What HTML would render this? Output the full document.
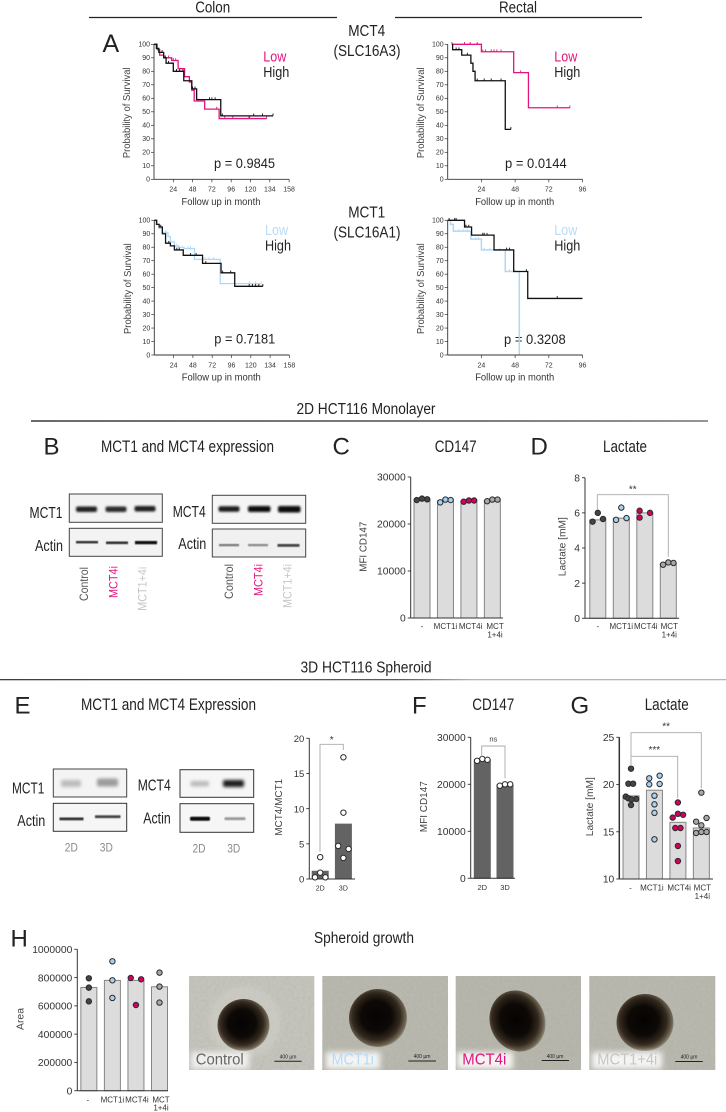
<!DOCTYPE html>
<html lang="en">
<head>
<meta charset="utf-8">
<title>MCT1 and MCT4 expression figure</title>
<style>
html,body{margin:0;padding:0;background:#fff;}
svg{display:block;position:absolute;left:0;top:0;}
text{font-family:"Liberation Sans",sans-serif;fill:#222;}
</style>
</head>
<body>
<svg id="figure" xmlns="http://www.w3.org/2000/svg" width="726" height="1112" viewBox="0 0 726 1112">
<defs>
  <filter id="b1" x="-30%" y="-150%" width="160%" height="400%"><feGaussianBlur stdDeviation="1.1"/></filter>
  <filter id="b2" x="-30%" y="-150%" width="160%" height="400%"><feGaussianBlur stdDeviation="1.7"/></filter>
  <filter id="b4" x="-30%" y="-60%" width="160%" height="220%"><feGaussianBlur stdDeviation="3"/></filter>
  <filter id="edge" x="-10%" y="-100%" width="120%" height="300%"><feGaussianBlur stdDeviation="0.6"/></filter>
  <filter id="grain" x="0" y="0" width="100%" height="100%">
    <feTurbulence type="fractalNoise" baseFrequency="0.35" numOctaves="2" seed="4"/>
    <feColorMatrix values="0 0 0 0 0.35  0 0 0 0 0.35  0 0 0 0 0.32  0.9 0 0 0 -0.32"/>
  </filter>
  <radialGradient id="sph" cx="0.47" cy="0.47" r="0.53">
    <stop offset="0" stop-color="#050302"/>
    <stop offset="0.5" stop-color="#0d0906"/>
    <stop offset="0.78" stop-color="#33291e"/>
    <stop offset="0.95" stop-color="#6a6150"/>
    <stop offset="1" stop-color="#87806f"/>
  </radialGradient>
  <linearGradient id="rule2" gradientUnits="userSpaceOnUse" x1="31" y1="0" x2="708" y2="0">
    <stop offset="0" stop-color="#111"/><stop offset="0.7" stop-color="#333"/><stop offset="1" stop-color="#555"/>
  </linearGradient>
  <linearGradient id="rule3" gradientUnits="userSpaceOnUse" x1="0" y1="0" x2="726" y2="0">
    <stop offset="0" stop-color="#222"/><stop offset="0.55" stop-color="#444"/><stop offset="0.65" stop-color="#aaa"/><stop offset="1" stop-color="#aaa"/>
  </linearGradient>
</defs>

<!-- Section headings -->
<g>
  <text x="212.7" y="12.5" font-size="15.5" text-anchor="middle" textLength="35" lengthAdjust="spacingAndGlyphs">Colon</text>
  <text x="518" y="12.5" font-size="15.5" text-anchor="middle" textLength="38" lengthAdjust="spacingAndGlyphs">Rectal</text>
  <line x1="89" y1="17.5" x2="337" y2="17.5" stroke="#222" stroke-width="1.2"/>
  <line x1="395" y1="17.5" x2="642" y2="17.5" stroke="#222" stroke-width="1.2"/>
  <text x="366.7" y="36" font-size="15.5" text-anchor="middle" textLength="37" lengthAdjust="spacingAndGlyphs">MCT4</text>
  <text x="367" y="56" font-size="15.5" text-anchor="middle" textLength="67" lengthAdjust="spacingAndGlyphs">(SLC16A3)</text>
  <text x="366.7" y="217.3" font-size="15.5" text-anchor="middle" textLength="37" lengthAdjust="spacingAndGlyphs">MCT1</text>
  <text x="367" y="237.3" font-size="15.5" text-anchor="middle" textLength="67" lengthAdjust="spacingAndGlyphs">(SLC16A1)</text>

  <text x="366" y="414" font-size="15.5" text-anchor="middle" textLength="139" lengthAdjust="spacingAndGlyphs">2D HCT116 Monolayer</text>
  <line x1="31" y1="421" x2="708" y2="421" stroke="url(#rule2)" stroke-width="1.2"/>
  <text x="366" y="672.5" font-size="15.5" text-anchor="middle" textLength="131" lengthAdjust="spacingAndGlyphs">3D HCT116 Spheroid</text>
  <line x1="0" y1="679.7" x2="726" y2="679.7" stroke="url(#rule3)" stroke-width="1.2"/>

  <text x="102.5" y="52" font-size="25" fill="#111">A</text>
  <text x="43.5" y="454.3" font-size="24" fill="#111">B</text>
  <text x="332.5" y="454.3" font-size="24" fill="#111">C</text>
  <text x="530.5" y="454.3" font-size="24" fill="#111">D</text>
  <text x="14.5" y="713.3" font-size="24" fill="#111">E</text>
  <text x="412" y="713.3" font-size="24" fill="#111">F</text>
  <text x="570.5" y="713.3" font-size="24" fill="#111">G</text>
  <text x="10.5" y="946.7" font-size="24" fill="#111">H</text>

  <text x="187.5" y="452" font-size="16.5" text-anchor="middle" textLength="173" lengthAdjust="spacingAndGlyphs">MCT1 and MCT4 expression</text>
  <text x="455.7" y="452" font-size="16.5" text-anchor="middle" textLength="42" lengthAdjust="spacingAndGlyphs">CD147</text>
  <text x="625" y="452" font-size="16.5" text-anchor="middle" textLength="44" lengthAdjust="spacingAndGlyphs">Lactate</text>
  <text x="168.5" y="710" font-size="16.5" text-anchor="middle" textLength="175" lengthAdjust="spacingAndGlyphs">MCT1 and MCT4 Expression</text>
  <text x="493.3" y="710" font-size="16.5" text-anchor="middle" textLength="42" lengthAdjust="spacingAndGlyphs">CD147</text>
  <text x="666.7" y="710" font-size="16.5" text-anchor="middle" textLength="44" lengthAdjust="spacingAndGlyphs">Lactate</text>
  <text x="364" y="943" font-size="15.5" text-anchor="middle" textLength="100" lengthAdjust="spacingAndGlyphs">Spheroid growth</text>
</g>

<!-- Survival legends and p values -->
<g>
  <text x="263.3" y="61.7" font-size="14.5" style="fill:#e3147f" textLength="23" lengthAdjust="spacingAndGlyphs">Low</text>
  <text x="263.3" y="77" font-size="14.5" textLength="26" lengthAdjust="spacingAndGlyphs">High</text>
  <text x="214" y="168" font-size="14" textLength="61" lengthAdjust="spacingAndGlyphs">p = 0.9845</text>
  <text x="554.3" y="61.7" font-size="14.5" style="fill:#e3147f" textLength="23" lengthAdjust="spacingAndGlyphs">Low</text>
  <text x="554.3" y="77" font-size="14.5" textLength="26" lengthAdjust="spacingAndGlyphs">High</text>
  <text x="505" y="168" font-size="14" textLength="61.7" lengthAdjust="spacingAndGlyphs">p = 0.0144</text>
  <text x="265" y="235" font-size="14.5" style="fill:#b8dcf8" textLength="23" lengthAdjust="spacingAndGlyphs">Low</text>
  <text x="265" y="250.7" font-size="14.5" textLength="26" lengthAdjust="spacingAndGlyphs">High</text>
  <text x="214.3" y="343.3" font-size="14" textLength="61" lengthAdjust="spacingAndGlyphs">p = 0.7181</text>
  <text x="554.3" y="235" font-size="14.5" style="fill:#b8dcf8" textLength="23" lengthAdjust="spacingAndGlyphs">Low</text>
  <text x="554.3" y="250.7" font-size="14.5" textLength="26" lengthAdjust="spacingAndGlyphs">High</text>
  <text x="504" y="344" font-size="14" textLength="61.7" lengthAdjust="spacingAndGlyphs">p = 0.3208</text>
</g>

<!-- Panel B western blots -->
<g>
  <g>
    <rect x="69.3" y="494" width="93" height="28.3" fill="#f3f3f3" stroke="#444" stroke-width="1"/>
    <rect x="76" y="506.5" width="21" height="5.5" rx="2" fill="#222" filter="url(#b1)"/>
    <rect x="105.5" y="506.5" width="21" height="5.5" rx="2" fill="#2c2c2c" filter="url(#b1)"/>
    <rect x="134.5" y="506" width="21" height="5.5" rx="2" fill="#222" filter="url(#b1)"/>
  </g>
  <g>
    <rect x="69.3" y="528.3" width="93" height="28" fill="#f3f3f3" stroke="#444" stroke-width="1"/>
    <rect x="76" y="541" width="22" height="2.4" fill="#333" filter="url(#edge)"/>
    <rect x="106" y="541.5" width="22" height="2.6" fill="#333" filter="url(#edge)"/>
    <rect x="135" y="541" width="22" height="3.2" fill="#111" filter="url(#edge)"/>
  </g>
  <g>
    <rect x="212.3" y="495.3" width="93.4" height="28" fill="#f5f5f5" stroke="#444" stroke-width="1"/>
    <rect x="218.5" y="506.3" width="21" height="5.5" rx="2" fill="#1c1c1c" filter="url(#b1)"/>
    <rect x="248" y="506" width="22.5" height="6" rx="2" fill="#0f0f0f" filter="url(#b1)"/>
    <rect x="278" y="506" width="22.5" height="6.5" rx="2" fill="#0a0a0a" filter="url(#b1)"/>
  </g>
  <g>
    <rect x="212.3" y="529" width="93.4" height="28" fill="#f0f0f0" stroke="#444" stroke-width="1"/>
    <rect x="219" y="544" width="20" height="2.2" fill="#777" filter="url(#edge)"/>
    <rect x="248" y="544" width="20" height="2.2" fill="#888" filter="url(#edge)"/>
    <rect x="277.5" y="544" width="22" height="2.8" fill="#444" filter="url(#edge)"/>
  </g>
  <text x="29.5" y="518" font-size="16" textLength="33" lengthAdjust="spacingAndGlyphs">MCT1</text>
  <text x="35" y="551" font-size="16" textLength="28" lengthAdjust="spacingAndGlyphs">Actin</text>
  <text x="172.7" y="517" font-size="16" textLength="33" lengthAdjust="spacingAndGlyphs">MCT4</text>
  <text x="178.3" y="549" font-size="16" textLength="28" lengthAdjust="spacingAndGlyphs">Actin</text>
  <text transform="translate(88,601) rotate(-90)" font-size="12" style="fill:#555" textLength="34" lengthAdjust="spacingAndGlyphs">Control</text>
  <text transform="translate(117.3,598) rotate(-90)" font-size="12" style="fill:#e3147f" textLength="32" lengthAdjust="spacingAndGlyphs">MCT4i</text>
  <text transform="translate(146.7,610.7) rotate(-90)" font-size="12" style="fill:#c6c6c6" textLength="44" lengthAdjust="spacingAndGlyphs">MCT1+4i</text>
  <text transform="translate(233,599) rotate(-90)" font-size="12" style="fill:#555" textLength="35" lengthAdjust="spacingAndGlyphs">Control</text>
  <text transform="translate(262.3,596) rotate(-90)" font-size="12" style="fill:#e3147f" textLength="32" lengthAdjust="spacingAndGlyphs">MCT4i</text>
  <text transform="translate(291.7,608) rotate(-90)" font-size="12" style="fill:#c6c6c6" textLength="44" lengthAdjust="spacingAndGlyphs">MCT1+4i</text>
</g>

<!-- Panel E western blots -->
<g>
  <g>
    <rect x="53.3" y="769" width="73.4" height="28" fill="#f4f4f4" stroke="#444" stroke-width="1"/>
    <rect x="61" y="780" width="20" height="7" rx="2" fill="#bdbdbd" filter="url(#b2)"/>
    <rect x="97" y="778.5" width="21" height="8" rx="2" fill="#9c9c9c" filter="url(#b2)"/>
  </g>
  <g>
    <rect x="53.3" y="803.3" width="73.4" height="28" fill="#f6f6f6" stroke="#333" stroke-width="1"/>
    <rect x="59.5" y="817.5" width="24" height="2.8" fill="#333" filter="url(#edge)"/>
    <rect x="95" y="815.3" width="25.5" height="2.8" fill="#444" filter="url(#edge)"/>
  </g>
  <g>
    <rect x="180" y="769.7" width="73.7" height="27.6" fill="#f6f6f6" stroke="#333" stroke-width="1"/>
    <rect x="190.5" y="781" width="18.5" height="5.5" rx="2" fill="#bbb" filter="url(#b2)"/>
    <rect x="223" y="780" width="21" height="7" rx="2" fill="#1b1b1b" filter="url(#b2)"/>
  </g>
  <g>
    <rect x="180" y="803.7" width="73.7" height="28.6" fill="#f6f6f6" stroke="#333" stroke-width="1"/>
    <rect x="190" y="816.7" width="20" height="4" rx="1.5" fill="#0c0c0c" filter="url(#edge)"/>
    <rect x="224.5" y="817.3" width="21" height="2.8" rx="1" fill="#999" filter="url(#edge)"/>
  </g>
  <text x="12" y="793.3" font-size="16" textLength="32.3" lengthAdjust="spacingAndGlyphs">MCT1</text>
  <text x="17.3" y="826" font-size="16" textLength="28" lengthAdjust="spacingAndGlyphs">Actin</text>
  <text x="137.7" y="790.7" font-size="16" textLength="33" lengthAdjust="spacingAndGlyphs">MCT4</text>
  <text x="143.3" y="823.3" font-size="16" textLength="27.4" lengthAdjust="spacingAndGlyphs">Actin</text>
  <text x="71.3" y="851.7" font-size="12" text-anchor="middle" style="fill:#888" textLength="13" lengthAdjust="spacingAndGlyphs">2D</text>
  <text x="106.3" y="851.7" font-size="12" text-anchor="middle" style="fill:#888" textLength="13" lengthAdjust="spacingAndGlyphs">3D</text>
  <text x="199" y="852.3" font-size="12" text-anchor="middle" style="fill:#888" textLength="13" lengthAdjust="spacingAndGlyphs">2D</text>
  <text x="233.7" y="852.3" font-size="12" text-anchor="middle" style="fill:#888" textLength="13" lengthAdjust="spacingAndGlyphs">3D</text>
</g>

<!-- Panel H microscopy photos -->
<g>
  <g>
    <rect x="189" y="976" width="125.3" height="94" fill="#c5c4bc"/>
    <rect x="189" y="976" width="125.3" height="94" filter="url(#grain)" opacity="0.5"/>
    <ellipse cx="245" cy="1022" rx="36" ry="36" fill="#d4d3cd" opacity="0.4" filter="url(#b4)"/>
    <circle cx="243.5" cy="1025" r="26" fill="url(#sph)"/>
    <rect x="191" y="1052" width="58" height="17" fill="#fff" opacity="0.75" filter="url(#b4)"/>
    <text x="195.7" y="1064.5" font-size="16" style="fill:#666" textLength="48" lengthAdjust="spacingAndGlyphs">Control</text>
    <line x1="274.3" y1="1061.3" x2="301.7" y2="1061.3" stroke="#222" stroke-width="1"/>
    <text x="288" y="1058.5" font-size="5" text-anchor="middle">400 µm</text>
  </g>
  <g>
    <rect x="322.3" y="976" width="125.7" height="94" fill="#b9b8ae"/>
    <rect x="322.3" y="976" width="125.7" height="94" filter="url(#grain)" opacity="0.5"/>
    <circle cx="378" cy="1018" r="29" fill="url(#sph)"/>
    <rect x="326" y="1052" width="54" height="17" fill="#fff" opacity="0.85" filter="url(#b4)"/>
    <text x="331.5" y="1064.5" font-size="16" style="fill:#b3dcfb" textLength="42.5" lengthAdjust="spacingAndGlyphs">MCT1i</text>
    <line x1="408.3" y1="1061" x2="436" y2="1061" stroke="#222" stroke-width="1"/>
    <text x="422" y="1058" font-size="5" text-anchor="middle">400 µm</text>
  </g>
  <g>
    <rect x="455.7" y="976" width="125.3" height="94" fill="#b7b6ac"/>
    <rect x="455.7" y="976" width="125.3" height="94" filter="url(#grain)" opacity="0.5"/>
    <ellipse cx="517.5" cy="1021" rx="27.5" ry="31" transform="rotate(-22 517.5 1021)" fill="url(#sph)"/>
    <rect x="457" y="1052" width="56" height="17" fill="#fff" opacity="0.85" filter="url(#b4)"/>
    <text x="462.3" y="1064.5" font-size="16" style="fill:#e3147f" textLength="44" lengthAdjust="spacingAndGlyphs">MCT4i</text>
    <line x1="541.7" y1="1060.5" x2="569" y2="1060.5" stroke="#222" stroke-width="1"/>
    <text x="555" y="1058" font-size="5" text-anchor="middle">400 µm</text>
  </g>
  <g>
    <rect x="589.3" y="976" width="126" height="94" fill="#b9b8af"/>
    <rect x="589.3" y="976" width="126" height="94" filter="url(#grain)" opacity="0.5"/>
    <circle cx="645" cy="1022.5" r="28.5" fill="url(#sph)"/>
    <rect x="592" y="1052" width="70" height="17" fill="#fff" opacity="0.85" filter="url(#b4)"/>
    <text x="597.3" y="1064.5" font-size="16" style="fill:#c6c6c6" textLength="60" lengthAdjust="spacingAndGlyphs">MCT1+4i</text>
    <line x1="675.3" y1="1061.5" x2="702.7" y2="1061.5" stroke="#222" stroke-width="1"/>
    <text x="689" y="1058.5" font-size="5" text-anchor="middle">400 µm</text>
  </g>
</g>

<g id="charts"></g>
</svg>

<script>
// ---------- Survival plot tick labels ----------
const kmYTicks = [0, 10, 20, 30, 40, 50, 60, 70, 80, 90, 100];
const colonTickMonths = [24, 48, 72, 96, 120, 144, 168];
const colonTickLabels = ['24', '48', '72', '96', '120', '134', '158'];
const rectalTickMonths = [24, 48, 72, 96];
const rectalTickLabels = ['24', '48', '72', '96'];

// ---------- A: colon MCT4 ----------
const colonMct4LowMonths = [4, 7, 12, 22, 30, 38, 44, 47, 50, 63, 81, 140];
const colonMct4LowSurvival = [96, 92, 90, 88, 82, 76, 72, 66, 58, 52, 45, 45];
const colonMct4LowCensored = [14, 18, 24, 27, 55, 78, 88, 98, 118, 119, 140];
const colonMct4HighMonths = [3, 6, 12, 15, 24, 37, 47, 53, 83, 148];
const colonMct4HighSurvival = [97, 94, 90, 86, 80, 73, 67, 59, 47, 47];
const colonMct4HighCensored = [10, 14, 18, 28, 32, 36, 48, 51, 69, 72, 76, 85, 124, 135, 148];

// ---------- A: rectal MCT4 ----------
const rectalMct4LowMonths = [3, 24, 47, 57.5, 87];
const rectalMct4LowSurvival = [100, 94.5, 79, 53, 53];
const rectalMct4LowCensored = [3, 12, 16, 21, 25, 27, 31, 33, 35, 38, 52, 78, 87];
const rectalMct4HighMonths = [3.5, 10, 16.5, 18, 19.5, 41, 45];
const rectalMct4HighSurvival = [96, 92, 86, 80, 73, 37, 37];
const rectalMct4HighCensored = [6, 8, 14, 21, 26, 31, 38, 45];

// ---------- A: colon MCT1 ----------
const colonMct1LowMonths = [2, 6, 10, 17, 20, 25, 30, 37, 50, 82, 133];
const colonMct1LowSurvival = [97, 94, 91, 88, 84, 81, 80, 79, 71, 53, 53];
const colonMct1LowCensored = [14, 28, 42, 45, 63, 68, 74, 118, 126, 133];
const colonMct1HighMonths = [3, 6, 10, 14, 20, 25, 36, 60, 83, 100, 135];
const colonMct1HighSurvival = [97, 95, 90, 83, 81, 78, 74, 68, 61, 51, 51];
const colonMct1HighCensored = [8, 18, 28, 31, 45, 52, 64, 85, 95, 118, 122, 126, 130, 135];

// ---------- A: rectal MCT1 ----------
const rectalMct1LowMonths = [2, 4, 16.5, 24, 41, 51];
const rectalMct1LowSurvival = [97, 92, 86, 78, 62, 0];
const rectalMct1LowCensored = [8, 11, 14, 20, 22, 26, 30, 37, 44, 48];
const rectalMct1HighMonths = [12, 17, 33, 47, 57, 96];
const rectalMct1HighSurvival = [95, 89, 78, 62, 42, 42];
const rectalMct1HighCensored = [1, 5, 6, 13, 15, 25, 26, 28, 42, 44, 56, 78];

// ---------- Bar chart shared labels ----------
const treatmentLines = [['-'], ['MCT1i'], ['MCT4i'], ['MCT', '1+4i']];
const treatmentDotColors = ['#454545', '#a7d0f2', '#d4005f', '#a8a8a8'];
const sampleLines = [['2D'], ['3D']];

// ---------- C: CD147 monolayer ----------
const cd147MonoTicks = [0, 10000, 20000, 30000];
const cd147MonoBars = [25200, 24950, 24900, 25050];
const cd147MonoDots = [[25100, 25400, 25250], [24600, 25200, 25100], [24750, 25000, 25000], [24850, 25200, 25200]];
const cd147MonoSlots = [[-1, 0, 1], [-1, 0, 1], [-1, 0, 1], [-1, 0, 1]];

// ---------- D: lactate monolayer ----------
const lactateMonoTicks = [0, 2, 4, 6, 8];
const lactateMonoBars = [5.6, 5.7, 6.0, 3.1];
const lactateMonoDots = [[5.5, 6.0, 5.65], [5.6, 6.3, 5.7], [6.12, 5.73, 6.0], [3.05, 3.18, 3.15]];
const lactateMonoSlots = [[-1, 0, 1], [-1, 0, 1], [-1, -1, 1], [-1, 0, 1]];

// ---------- E: MCT4/MCT1 ratio ----------
const ratioTicks = [0, 5, 10, 15, 20];
const ratioBars = [1.1, 7.8];
const ratioDots = [[0.24, 0.9, 0.24, 3.1], [17.3, 9.43, 4.7, 4.27, 2.99]];
const ratioSlots = [[-1, 0, 1, 0], [0, 0, -1, 1, 0]];

// ---------- F: CD147 spheroid ----------
const cd147SphereTicks = [0, 10000, 20000, 30000];
const cd147SphereBars = [25200, 19900];
const cd147SphereDots = [[25000, 25400, 25200], [19700, 20000, 20000]];
const cd147SphereSlots = [[-1, 0, 1], [-1, 0, 1]];

// ---------- G: lactate spheroid ----------
const lactateSphereTicks = [10, 15, 20, 25];
const lactateSphereBars = [18.8, 19.4, 16.0, 15.4];
const lactateSphereDots = [
  [21.68, 20.09, 20.09, 18.72, 18.54, 18.47, 18.43, 17.83],
  [20.94, 20.66, 20.02, 20.06, 18.82, 17.9, 17.0, 14.2],
  [18.1, 16.5, 16.9, 16.8, 15.4, 15.4, 13.5, 11.9],
  [19.14, 16.46, 16.07, 15.68, 14.87, 14.98, 14.98]
];
const lactateSphereSlots = [
  [0, -0.5, 0.4, -1, -0.5, 1, 0.1, 0],
  [1, -1, -1, 1, 0, 0, 0, 0],
  [0, -1, 0, 1, -0.5, 0.5, 0, 0],
  [0, 1, -1, 0, -1, 0, 1]
];

// ---------- H: spheroid area ----------
const areaTicks = [0, 200000, 400000, 600000, 800000, 1000000];
const areaBars = [730000, 780000, 780000, 735000];
const areaDots = [[795000, 729000, 632000], [915000, 781000, 656000], [797000, 788000, 606000], [835000, 736000, 623000]];
const areaSlots = [[0, 0, 0], [0, 0, 0], [-1, 1, 0], [0, 0, 0]];

// ---------- Drawing helpers ----------
const NS = 'http://www.w3.org/2000/svg';
const root = document.getElementById('charts');

function node(parent, tag, attrs, name) {
  const el = document.createElementNS(NS, tag);
  for (const k in attrs) el.setAttribute(k, attrs[k]);
  
  
  parent.appendChild(el);
  return el;
}
function txt(parent, str, attrs, name, fill) {
  const el = node(parent, 'text', attrs, name);
  el.textContent = str;
  if (fill) el.style.fill = fill;
  return el;
}
function rotatedTitle(parent, str, x, y, size, len, name) {
  txt(parent, str, {
    transform: 'translate(' + x + ',' + y + ') rotate(-90)',
    'font-size': size, 'text-anchor': 'middle',
    textLength: len, lengthAdjust: 'spacingAndGlyphs'
  }, name, '#444');
}

// Kaplan-Meier step plot
function drawKM(cfg) {
  const g = node(root, 'g', {}, cfg.name);
  const xs = m => cfg.x0 + m * cfg.pxPerMonth;
  const ys = s => cfg.yBottom - s * (cfg.yBottom - cfg.yTop) / 100;
  function series(months, surv, censored, color, w, name) {
    let d = 'M' + xs(cfg.start || 0) + ' ' + ys(100);
    months.forEach((m, i) => { d += 'H' + xs(m) + 'V' + ys(surv[i]); });
    node(g, 'path', { d: d, fill: 'none', stroke: color, 'stroke-width': w }, name + '-curve');
    censored.forEach(c => {
      let s = 100;
      months.forEach((m, i) => { if (m <= c) s = surv[i]; });
      node(g, 'line', { x1: xs(c), x2: xs(c), y1: ys(s) - 2.3, y2: ys(s), stroke: color, 'stroke-width': 0.9 }, name + '-censor-mark');
    });
  }
  series(cfg.low[0], cfg.low[1], cfg.low[2], cfg.lowColor, cfg.lowWidth || 1.3, 'low-series');
  series(cfg.high[0], cfg.high[1], cfg.high[2], '#111', 1.3, 'high-series');
  const right = xs(cfg.tickMonths[cfg.tickMonths.length - 1]);
  node(g, 'line', { x1: cfg.x0, x2: cfg.x0, y1: ys(100), y2: ys(0), stroke: '#333', 'stroke-width': 0.9 }, 'y-axis');
  node(g, 'line', { x1: cfg.x0, x2: right, y1: ys(0), y2: ys(0), stroke: '#333', 'stroke-width': 0.9 }, 'x-axis');
  kmYTicks.forEach(v => {
    node(g, 'line', { x1: cfg.x0 - 3, x2: cfg.x0, y1: ys(v), y2: ys(v), stroke: '#333', 'stroke-width': 0.7 }, 'y-tick');
    txt(g, String(v), { x: cfg.x0 - 4, y: ys(v) + 2.4, 'font-size': 7, 'text-anchor': 'end' }, 'y-tick-label', '#333');
  });
  cfg.tickMonths.forEach((m, i) => {
    node(g, 'line', { x1: xs(m), x2: xs(m), y1: ys(0), y2: ys(0) + 3, stroke: '#333', 'stroke-width': 0.7 }, 'x-tick');
    txt(g, cfg.tickLabels[i], { x: xs(m), y: ys(0) + 12.4, 'font-size': 7, 'text-anchor': 'middle' }, 'x-tick-label', '#333');
  });
  rotatedTitle(g, 'Probability of Survival', cfg.titleX, (ys(0) + ys(100)) / 2 + 1, 10, 90.7, 'y-axis-title');
  txt(g, 'Follow up in month', {
    x: cfg.x0 + 67, y: ys(0) + 25.7, 'font-size': 10, 'text-anchor': 'middle',
    textLength: 79, lengthAdjust: 'spacingAndGlyphs'
  }, 'x-axis-title', '#333');
}

const PINK = '#e3147f';
const SKY = '#aed8f7';
const colonScale = 19.3 / 24;
const rectalScale = 33.7 / 24;

drawKM({ name: 'km-colon-mct4', x0: 154, yTop: 44.3, yBottom: 179.3, pxPerMonth: colonScale, titleX: 130, tickMonths: colonTickMonths, tickLabels: colonTickLabels, lowColor: PINK,
  low: [colonMct4LowMonths, colonMct4LowSurvival, colonMct4LowCensored],
  high: [colonMct4HighMonths, colonMct4HighSurvival, colonMct4HighCensored] });
drawKM({ name: 'km-rectal-mct4', x0: 447.7, yTop: 44.3, yBottom: 179.3, pxPerMonth: rectalScale, titleX: 424, start: 3, tickMonths: rectalTickMonths, tickLabels: rectalTickLabels, lowColor: PINK,
  low: [rectalMct4LowMonths, rectalMct4LowSurvival, rectalMct4LowCensored],
  high: [rectalMct4HighMonths, rectalMct4HighSurvival, rectalMct4HighCensored] });
drawKM({ name: 'km-colon-mct1', x0: 154.3, yTop: 220.3, yBottom: 355, pxPerMonth: colonScale, titleX: 131, tickMonths: colonTickMonths, tickLabels: colonTickLabels, lowColor: SKY,
  low: [colonMct1LowMonths, colonMct1LowSurvival, colonMct1LowCensored],
  high: [colonMct1HighMonths, colonMct1HighSurvival, colonMct1HighCensored] });
drawKM({ name: 'km-rectal-mct1', x0: 447.7, yTop: 220.3, yBottom: 355, pxPerMonth: rectalScale, titleX: 424, tickMonths: rectalTickMonths, tickLabels: rectalTickLabels, lowColor: SKY, lowWidth: 1.5,
  low: [rectalMct1LowMonths, rectalMct1LowSurvival, rectalMct1LowCensored],
  high: [rectalMct1HighMonths, rectalMct1HighSurvival, rectalMct1HighCensored] });

// Bar + dot chart
function drawBars(cfg) {
  const g = node(root, 'g', {}, cfg.name);
  const min = cfg.ticks[0], max = cfg.ticks[cfg.ticks.length - 1];
  const ys = v => cfg.yBottom - (v - min) * (cfg.yBottom - cfg.yTop) / (max - min);
  const cx = i => cfg.firstCenter + i * cfg.step;
  cfg.bars.forEach((v, i) => {
    node(g, 'rect', { x: cx(i) - 8, y: ys(v), width: 16, height: cfg.yBottom - ys(v), fill: cfg.barFill, stroke: cfg.barStroke, 'stroke-width': 1 }, 'bar-' + i);
  });
  node(g, 'line', { x1: cfg.axisX, x2: cfg.axisX, y1: cfg.yTop, y2: cfg.yBottom, stroke: '#333', 'stroke-width': cfg.axisWidth || 1 }, 'y-axis');
  node(g, 'line', { x1: cfg.axisX, x2: cfg.axisEnd, y1: cfg.yBottom, y2: cfg.yBottom, stroke: '#333', 'stroke-width': 1 }, 'x-axis');
  cfg.ticks.forEach(t => {
    node(g, 'line', { x1: cfg.axisX - 3, x2: cfg.axisX, y1: ys(t), y2: ys(t), stroke: '#333', 'stroke-width': 0.9 }, 'y-tick');
    txt(g, String(t), { x: cfg.axisX - 5, y: ys(t) + 3.7, 'font-size': cfg.tickSize || 10.3, 'text-anchor': 'end' }, 'y-tick-label', '#333');
  });
  cfg.dots.forEach((group, i) => {
    group.forEach((v, j) => {
      const dot = node(g, 'circle', { cx: cx(i) + cfg.slots[i][j] * 5.2, cy: ys(v), r: 2.7, fill: cfg.dotColors ? cfg.dotColors[i] : '#fff', stroke: '#2a2a2a', 'stroke-width': 1 }, 'data-point');
      dot.setAttribute('data-group', String(i));
    });
  });
  cfg.xLines.forEach((lines, i) => {
    lines.forEach((s, k) => {
      txt(g, s, { x: cx(i) + (cfg.labelShift ? cfg.labelShift[i] : 0), y: cfg.labelY + k * 8.3, 'font-size': cfg.labelSize || 8, 'text-anchor': 'middle' }, 'x-tick-label', '#333');
    });
  });
}
function bracket(xl, yl, yTop, xr, yr, label, labelY, labelSize, name) {
  const g = node(root, 'g', {}, name);
  node(g, 'path', { d: 'M' + xl + ' ' + yl + 'V' + yTop + 'H' + xr + 'V' + yr, fill: 'none', stroke: '#aaa', 'stroke-width': 0.9 }, name + '-line');
  txt(g, label, { x: (xl + xr) / 2, y: labelY, 'font-size': labelSize, 'text-anchor': 'middle' }, name + '-label', '#333');
}

const GREY = '#dcdcdc', GREY_EDGE = '#858585', DARK = '#636363';

drawBars({ name: 'chart-cd147-monolayer', ticks: cd147MonoTicks, bars: cd147MonoBars, dots: cd147MonoDots, slots: cd147MonoSlots, dotColors: treatmentDotColors,
  yTop: 477, yBottom: 618, axisX: 410.7, axisEnd: 503, firstCenter: 422, step: 23.45, barFill: GREY, barStroke: GREY_EDGE, xLines: treatmentLines, labelY: 629, labelShift: [0, 0, 1.7, 2.7] });
rotatedTitle(root, 'MFI CD147', 366.5, 546.7, 10.5, 50, 'y-axis-title');

drawBars({ name: 'chart-lactate-monolayer', ticks: lactateMonoTicks, bars: lactateMonoBars, dots: lactateMonoDots, slots: lactateMonoSlots, dotColors: treatmentDotColors,
  yTop: 477.7, yBottom: 618.3, axisX: 585, axisEnd: 679, firstCenter: 597.8, step: 23.5, barFill: GREY, barStroke: GREY_EDGE, xLines: treatmentLines, labelY: 629, labelShift: [0, 0, 1, 1] });
rotatedTitle(root, 'Lactate [mM]', 565.5, 546.7, 10.5, 59, 'y-axis-title');
bracket(597.3, 510, 494.7, 668.3, 556.7, '**', 492.5, 10, 'significance-d');

drawBars({ name: 'chart-mct-ratio', ticks: ratioTicks, bars: ratioBars, dots: ratioDots, slots: ratioSlots,
  yTop: 738.3, yBottom: 879, axisX: 309.3, axisEnd: 355, firstCenter: 320.2, step: 23.2, barFill: DARK, barStroke: DARK, xLines: sampleLines, labelY: 890.7, labelSize: 7, tickSize: 9.5 });
rotatedTitle(root, 'MCT4/MCT1', 282, 807.3, 10.5, 57, 'y-axis-title');
bracket(320, 851.7, 744.3, 343.3, 750, '*', 743, 10, 'significance-e');

drawBars({ name: 'chart-cd147-spheroid', ticks: cd147SphereTicks, bars: cd147SphereBars, dots: cd147SphereDots, slots: cd147SphereSlots,
  yTop: 737.3, yBottom: 878.3, axisX: 470.7, axisEnd: 515, firstCenter: 482.3, step: 22.7, barFill: DARK, barStroke: DARK, xLines: sampleLines, labelY: 890, labelSize: 7.5 });
rotatedTitle(root, 'MFI CD147', 427, 806.7, 10.5, 51, 'y-axis-title');
bracket(481.7, 756.7, 746, 505, 778.3, 'ns', 741.7, 7.5, 'significance-f');

drawBars({ name: 'chart-lactate-spheroid', ticks: lactateSphereTicks, bars: lactateSphereBars, dots: lactateSphereDots, slots: lactateSphereSlots, dotColors: treatmentDotColors,
  yTop: 737.3, yBottom: 879, axisX: 619.3, axisWidth: 1.5, axisEnd: 713, firstCenter: 631, step: 23.45, barFill: GREY, barStroke: GREY_EDGE, xLines: treatmentLines, labelY: 890.7, labelShift: [-0.5, -2.5, 1.3, 1] });
rotatedTitle(root, 'Lactate [mM]', 593, 806.7, 10.5, 59, 'y-axis-title');
bracket(631, 766, 756.3, 677.7, 798.3, '***', 753, 10, 'significance-g-mct4i');
bracket(631, 756, 732.7, 701.3, 788.3, '**', 729.5, 10, 'significance-g-combo');

drawBars({ name: 'chart-spheroid-area', ticks: areaTicks, bars: areaBars, dots: areaDots, slots: areaSlots, dotColors: treatmentDotColors,
  yTop: 949.3, yBottom: 1090.7, axisX: 77.3, axisEnd: 168, firstCenter: 88.85, step: 23.55, barFill: GREY, barStroke: GREY_EDGE, xLines: treatmentLines, labelY: 1102.3, labelShift: [-1, 0, 1, 1.5] });
rotatedTitle(root, 'Area', 23.5, 1019, 10.5, 22, 'y-axis-title');
</script>
</body>
</html>
